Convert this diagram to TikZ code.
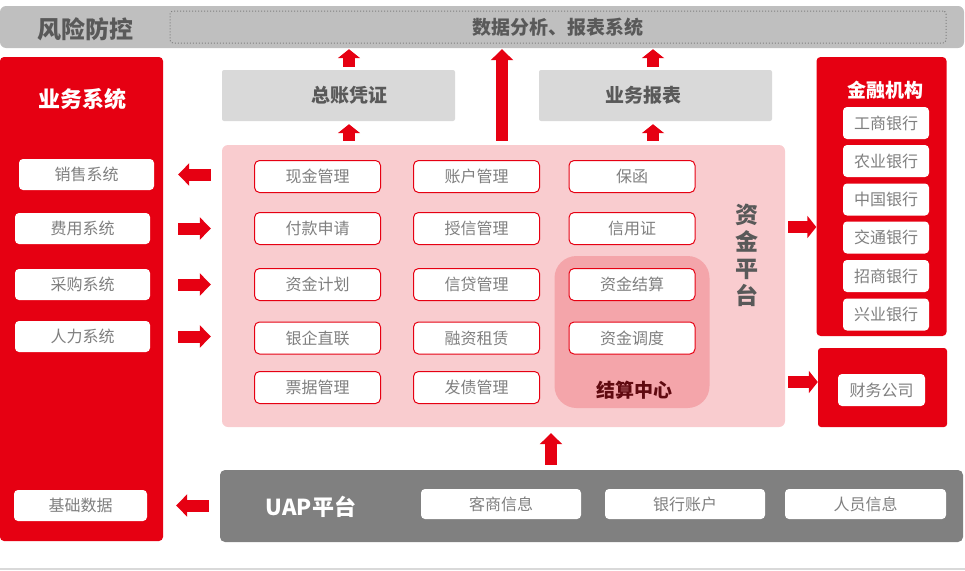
\documentclass[tikz,border=0pt]{standalone}
\usepackage{fontspec}
\setmainfont{Noto Sans CJK SC}
\usetikzlibrary{arrows.meta, positioning}
\definecolor{zjred}{HTML}{E60012}
\definecolor{zjpink}{HTML}{F9CCCF}
\definecolor{jspink}{HTML}{F4A5AA}
\definecolor{bargray}{HTML}{BFBFBF}
\definecolor{boxgray}{HTML}{D9D9D9}
\definecolor{uapgray}{HTML}{808080}
\definecolor{headtxt}{HTML}{595959}
\definecolor{modtxt}{HTML}{7F7F7F}
\definecolor{jstxt}{HTML}{600A10}
\tikzset{
    panel_red/.style={
        rectangle,
        fill=zjred,
        rounded corners=4pt,
        inner sep=0pt
    },
    head_box/.style={
        rectangle,
        fill=boxgray,
        rounded corners=2pt,
        minimum width=233pt,
        minimum height=51pt,
        inner sep=0pt
    },
    head_txt/.style={
        text=headtxt,
        font=\fontsize{19}{21}\selectfont\bfseries
    },
    mod_box/.style={
        rectangle,
        draw=zjred,
        line width=1pt,
        fill=white,
        rounded corners=5pt,
        minimum width=126pt,
        minimum height=32pt,
        inner sep=0pt,
        text=modtxt,
        font=\fontsize{16}{18}\selectfont
    },
    side_box/.style={
        rectangle,
        fill=white,
        rounded corners=4pt,
        minimum width=135pt,
        minimum height=31pt,
        inner sep=0pt,
        text=modtxt,
        font=\fontsize{16}{18}\selectfont
    },
    bank_box/.style={
        side_box,
        minimum width=86pt,
        minimum height=32pt
    },
    blk_arrow/.style={
        draw=zjred,
        line width=12pt,
        -{Triangle[length=11pt, width=22pt]}
    },
    blk_small/.style={
        draw=zjred,
        line width=12pt,
        -{Triangle[length=9pt, width=22pt]}
    }
}

\begin{document}
\begin{tikzpicture}[x=1pt, y=-1pt]
\useasboundingbox (0,0) rectangle (965,570);

% --- top bar ---
\node[rectangle, fill=bargray, rounded corners=6pt, minimum width=964pt, minimum height=42pt, inner sep=0pt] (FxBar) at (482,27) {};
\node[text=headtxt, font=\fontsize{24}{26}\selectfont\bfseries] (FxTitle) at (85,29) {风险防控};
\node[rectangle, draw=modtxt, dotted, line width=1pt, rounded corners=3pt, minimum width=776pt, minimum height=32pt, inner sep=0pt, head_txt] (DataRpt) at (558,27) {数据分析、报表系统};

% --- business systems ---
\node[panel_red, minimum width=163pt, minimum height=484pt] (YwPanel) at (81.5,299) {};
\node[text=white, font=\fontsize{22}{24}\selectfont\bfseries] (YwTitle) at (82,99) {业务系统};
\node[side_box] (Sales) at (86.5,174.5) {销售系统};
\node[side_box] (Expense) at (82.5,228.5) {费用系统};
\node[side_box] (Purchase) at (82.5,284.5) {采购系统};
\node[side_box] (HR) at (82.5,336.5) {人力系统};
\node[side_box, minimum width=133pt] (BaseData) at (80.5,505.5) {基础数据};

% --- ledger and reports ---
\node[head_box, label={[head_txt, xshift=10.5pt]center:总账凭证}] (Ledger) at (338.5,95.5) {};
\node[head_box, label={[head_txt, xshift=-12pt]center:业务报表}] (Report) at (655.5,95.5) {};

% --- fund platform ---
\node[rectangle, fill=zjpink, rounded corners=6pt, minimum width=563pt, minimum height=282pt, inner sep=0pt] (FundPlat) at (503.5,286) {};
\node[rectangle, fill=jspink, rounded corners=22pt, minimum width=155pt, minimum height=152pt, inner sep=0pt] (SettleCtr) at (632,332) {};
\node[text=jstxt, font=\fontsize{19}{21}\selectfont\bfseries] (SettleTitle) at (634,390) {结算中心};
\node[text=headtxt, font=\fontsize{23}{27}\selectfont\bfseries, align=center] (FundTitle) at (747,255) {资\\金\\平\\台};

\node[mod_box] (Cash) at (317.5,176.5) {现金管理};
\node[mod_box] (PayReq) at (317.5,228.5) {付款申请};
\node[mod_box] (FundPlan) at (317.5,284.5) {资金计划};
\node[mod_box] (BankLink) at (317.5,338) {银企直联};
\node[mod_box] (Bill) at (317.5,387.5) {票据管理};

\node[mod_box] (Account) at (476.5,176.5) {账户管理};
\node[mod_box] (Credit) at (476.5,228.5) {授信管理};
\node[mod_box] (Loan) at (476.5,284.5) {信贷管理};
\node[mod_box] (Lease) at (476.5,338) {融资租赁};
\node[mod_box] (Bond) at (476.5,387.5) {发债管理};

\node[mod_box] (Guarantee) at (632,176.5) {保函};
\node[mod_box] (LC) at (632,228.5) {信用证};
\node[mod_box] (Settle) at (632,284.5) {资金结算};
\node[mod_box] (Dispatch) at (632,338) {资金调度};

% --- financial institutions ---
\node[panel_red, minimum width=130pt, minimum height=279pt] (BankPanel) at (881.5,196.5) {};
\node[text=white, font=\fontsize{19}{21}\selectfont\bfseries] (BankTitle) at (885,90) {金融机构};
\node[bank_box] (ICBC) at (886,123) {工商银行};
\node[bank_box] (ABC) at (886,161) {农业银行};
\node[bank_box] (BOC) at (886,199.5) {中国银行};
\node[bank_box] (BOCOM) at (886,237.5) {交通银行};
\node[bank_box] (CMB) at (886,276) {招商银行};
\node[bank_box] (CIB) at (886,314.5) {兴业银行};

\node[panel_red, rounded corners=3pt, minimum width=129pt, minimum height=79pt] (FinPanel) at (882.5,387.5) {};
\node[bank_box, minimum width=87pt] (FinCo) at (881.5,390) {财务公司};

% --- UAP platform ---
\node[rectangle, fill=uapgray, rounded corners=5pt, minimum width=743pt, minimum height=72pt, inner sep=0pt] (UAP) at (591.5,506) {};
\node[text=white, font=\fontsize{22}{24}\selectfont\bfseries] (UAPTitle) at (311,507) {UAP平台};
\node[side_box, minimum width=160pt, minimum height=30pt] (Vendor) at (501,504) {客商信息};
\node[side_box, minimum width=160pt, minimum height=30pt] (BankAcct) at (685,504) {银行账户};
\node[side_box, minimum width=161pt, minimum height=30pt] (Staff) at (865.5,504) {人员信息};

\draw[line width=1.2pt, draw=boxgray] (0,569) -- (965,569);

% --- arrows ---
\coordinate (BigX) at (502,0);
\coordinate (LedgerX) at (349,0);
\coordinate (ReportX) at (653,0);
\coordinate (UAPX) at (551,0);
\coordinate (BankY) at (0,227);
\coordinate (FinY) at (0,382);

\draw[blk_small, shorten <=3pt, shorten >=1pt] (Ledger.north -| LedgerX) -- (FxBar.south -| LedgerX);
\draw[blk_small, shorten <=3pt, shorten >=1pt] (Report.north -| ReportX) -- (FxBar.south -| ReportX);
\draw[blk_small, shorten <=4pt, shorten >=3pt] (FundPlat.north -| LedgerX) -- (Ledger.south -| LedgerX);
\draw[blk_small, shorten <=4pt, shorten >=3pt] (FundPlat.north -| ReportX) -- (Report.south -| ReportX);
\draw[blk_arrow, shorten <=4pt, shorten >=1pt] (FundPlat.north -| BigX) -- (FxBar.south -| BigX);

\draw[blk_arrow, shorten <=11pt, shorten >=15pt] (Sales -| FundPlat.west) -- (Sales -| YwPanel.east);
\draw[blk_arrow, shorten <=15pt, shorten >=11pt] (Expense -| YwPanel.east) -- (Expense -| FundPlat.west);
\draw[blk_arrow, shorten <=15pt, shorten >=11pt] (Purchase -| YwPanel.east) -- (Purchase -| FundPlat.west);
\draw[blk_arrow, shorten <=15pt, shorten >=11pt] (HR -| YwPanel.east) -- (HR -| FundPlat.west);
\draw[blk_arrow, shorten <=11pt, shorten >=13pt] (BaseData -| UAP.west) -- (BaseData -| YwPanel.east);

\draw[blk_small, shorten <=3pt, shorten >=0pt] (FundPlat.east |- BankY) -- (BankPanel.west |- BankY);
\draw[blk_small, shorten <=3pt, shorten >=0pt] (FundPlat.east |- FinY) -- (FinPanel.west |- FinY);
\draw[blk_arrow, shorten <=5pt, shorten >=6pt] (UAP.north -| UAPX) -- (FundPlat.south -| UAPX);

\end{tikzpicture}
\end{document}
